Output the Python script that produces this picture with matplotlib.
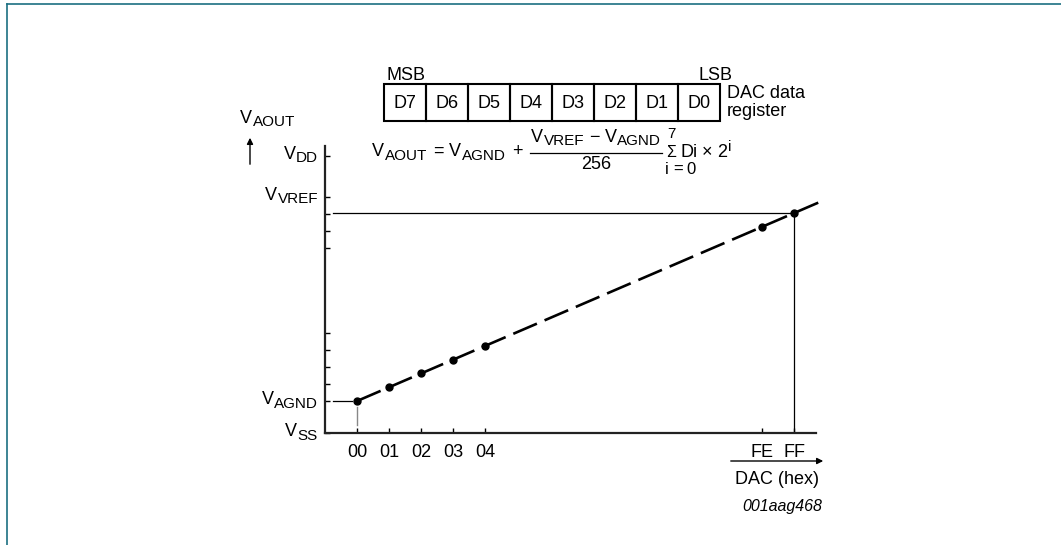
import matplotlib
matplotlib.use('Agg')
import matplotlib.pyplot as plt
from matplotlib.lines import Line2D
from matplotlib.patches import Rectangle

plt.rcParams['font.family'] = ['Liberation Sans', 'DejaVu Sans']
plt.rcParams['lines.scale_dashes'] = False

# data (schematic units)
dac_codes = [0x00, 0x01, 0x02, 0x03, 0x04, 0xFE, 0xFF]
dac_labels = ['00', '01', '02', '03', '04', 'FE', 'FF']
v_aout = [1.88, 2.69, 3.50, 4.31, 5.12, 12.13, 12.94]
v_ss = 0.0
v_agnd = 1.88
v_vref = 13.9
v_dd = 16.3
y_levels = [v_ss, v_agnd, v_vref, v_dd]
y_subs = ['SS', 'AGND', 'VREF', 'DD']
minor_steps = [0, 1, 2, 3, 4, 9, 10, 11]
register_bits = ['D7', 'D6', 'D5', 'D4', 'D3', 'D2', 'D1', 'D0']

W, H = 1061, 545
FS, SUB = 13, 11


def fx(px):
    return px / W


def fy(py):
    return 1 - py / H


def xpos(code):
    # broken x axis: codes 00..04 then jump to FE, FF
    return code if code <= 4 else code - 0xFF + 13.66


fig = plt.figure(figsize=(W / 100, H / 100), dpi=100)
renderer = fig.canvas.get_renderer()


def runs_text(x, base, runs, ha='left'):
    # runs: (text, size, drop in px, gap before in px)
    widths = []
    for s, size, dy, gap in runs:
        t = fig.text(0, 0, s, fontsize=size)
        widths.append(t.get_window_extent(renderer).width)
        t.remove()
    total = sum(widths) + sum(r[3] for r in runs)
    cur = x - total if ha == 'right' else (x - total / 2 if ha == 'center' else x)
    for (s, size, dy, gap), w in zip(runs, widths):
        cur += gap
        fig.text(fx(cur), fy(base + dy), s, fontsize=size, va='baseline')
        cur += w


def v(sub, gap=0):
    return [('V', FS, 0, gap), (sub, SUB, 3.5, 0.5)]


# teal frame
fig.add_artist(Line2D([fx(7), fx(7)], [0, fy(4)], color='#1b6f82', lw=1.2))
fig.add_artist(Line2D([fx(7), 1], [fy(4), fy(4)], color='#1b6f82', lw=1.2))

ax = fig.add_axes([fx(325), fy(433), fx(816) - fx(325), (433 - 146) / H])
ax.set_xlim(-1.0, 14.34)
ax.set_ylim(0, 16.88)
for s in ['top', 'right']:
    ax.spines[s].set_visible(False)
for s in ['left', 'bottom']:
    ax.spines[s].set_linewidth(1.6)
    ax.spines[s].set_color('#222222')

xs = [xpos(c) for c in dac_codes]
ax.set_xticks(xs)
ax.set_xticklabels(dac_labels)
ax.tick_params(axis='x', direction='in', length=3.5, width=1, pad=8, labelsize=FS)

ax.set_yticks(y_levels)
ax.set_yticks([v_agnd + k for k in minor_steps], minor=True)
ax.tick_params(axis='y', which='both', direction='in', length=3.5, width=1,
               labelleft=False)
for lev, sub in zip(y_levels, y_subs):
    py = H - ax.transData.transform((0, lev))[1]
    runs_text(318, py + 3, v(sub), ha='right')

# dashed transfer line, extended a little past FF
ext_x = xs[-1] + (xs[-1] - xs[-2]) * 0.87
ext_y = v_aout[-1] + (v_aout[-1] - v_aout[-2]) * 0.87
ax.plot(xs + [ext_x], v_aout + [ext_y], color='black', lw=1.9,
        dashes=(18.5, 6), clip_on=False)
ax.plot(xs, v_aout, 'o', color='black', ms=5)

# guide lines
ax.plot([-0.75, xs[-1]], [v_aout[-1], v_aout[-1]], color='black', lw=0.9)
ax.plot([xs[-1], xs[-1]], [0, v_aout[-1]], color='black', lw=0.9)
ax.plot([-0.75, -0.17], [v_agnd, v_agnd], color='black', lw=0.9)
ax.plot([0, 0], [0.45, 1.55], color='#888888', lw=1)

# y axis label and arrow
runs_text(240, 123, v('AOUT'))
ax.annotate('', xy=(fx(250), fy(135)), xytext=(fx(250), fy(167)),
            xycoords='figure fraction', textcoords='figure fraction',
            arrowprops=dict(arrowstyle='-|>', lw=1, color='black', mutation_scale=9))

# x axis arrow and label
ax.annotate('', xy=(fx(826), fy(461)), xytext=(fx(728), fy(461)),
            xycoords='figure fraction', textcoords='figure fraction',
            arrowprops=dict(arrowstyle='-|>', lw=1, color='black', mutation_scale=9))
fig.text(fx(777), fy(479), 'DAC (hex)', fontsize=FS, ha='center', va='center')
fig.text(fx(782), fy(507), '001aag468', fontsize=11.5, style='italic',
         ha='center', va='center')

# register boxes
bx0, bw, btop, bbot = 384, 42, 84, 121
for i, b in enumerate(register_bits):
    fig.add_artist(Rectangle((fx(bx0 + i * bw), fy(bbot)), bw / W, (bbot - btop) / H,
                             transform=fig.transFigure, fill=False, lw=1.5,
                             edgecolor='black'))
    fig.text(fx(bx0 + i * bw + bw / 2), fy(103), b, fontsize=FS,
             ha='center', va='center')
fig.text(fx(387), fy(75), 'MSB', fontsize=FS, va='center')
fig.text(fx(699), fy(75), 'LSB', fontsize=FS, va='center')
fig.text(fx(727), fy(93), 'DAC data', fontsize=FS, va='center')
fig.text(fx(727), fy(111), 'register', fontsize=FS, va='center')

# formula
runs_text(372, 156, v('AOUT') + [('=', FS, 0, 6)] + v('AGND', 6) + [('+', FS, 0, 6)])
runs_text(596, 142, v('VREF') + [('\u2212', FS, 0, 5)] + v('AGND', 5), ha='center')
fig.add_artist(Line2D([fx(530), fx(662)], [fy(152.5), fy(152.5)], color='black', lw=0.9))
fig.text(fx(596), fy(169), '256', fontsize=FS, ha='center', va='baseline')
fig.text(fx(671), fy(157.5), '\u03a3', fontsize=11.5, ha='center', va='baseline')
fig.text(fx(671), fy(138), '7', fontsize=SUB, ha='center', va='baseline')
runs_text(665, 174, [('i', 12, 0, 0), ('=', 12, 0, 4), ('0', 12, 0, 4)])
runs_text(681, 157, [('Di', FS, 0, 0), ('\u00d7', FS, 0, 4), ('2', FS, 0, 4),
                     ('i', SUB, -6, 1)])

fig.savefig('out.png', dpi=100)
